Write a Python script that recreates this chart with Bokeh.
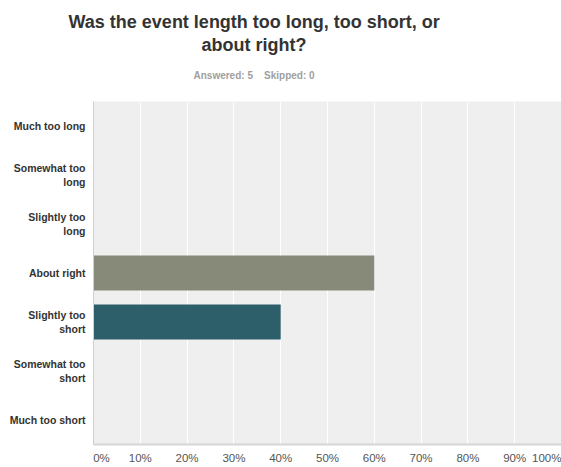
from bokeh.plotting import figure
from bokeh.models import Range1d, FactorRange, FixedTicker, Title, PrintfTickFormatter
from bokeh.embed import file_html
from bokeh.resources import INLINE

title_line1 = "Was the event length too long, too short, or"
title_line2 = "about right?"
answered = "Answered: 5"
skipped = "Skipped: 0"
categories = [
    "Much too long",
    "Somewhat too\nlong",
    "Slightly too\nlong",
    "About right",
    "Slightly too\nshort",
    "Somewhat too\nshort",
    "Much too short",
]
percent = [0, 0, 0, 60, 40, 0, 0]
bar_colors = ["#878a78", "#878a78", "#878a78", "#878a78", "#2c5f6a", "#2c5f6a", "#2c5f6a"]
x_ticks = [0, 10, 20, 30, 40, 50, 60, 70, 80, 90, 100]

FONT = "Liberation Sans"
NB = "\u00a0"

p = figure(width=561, height=467, output_backend="svg", toolbar_location=None,
           x_range=Range1d(0, 100), y_range=FactorRange(factors=list(reversed(categories)), range_padding=0),
           min_border_left=93, min_border_right=0, min_border_top=101, min_border_bottom=23)
p.background_fill_color = "#efefef"
p.border_fill_color = "white"
p.outline_line_color = None

p.xgrid.ticker = FixedTicker(ticks=x_ticks)
p.xgrid.grid_line_color = "white"
p.xgrid.grid_line_width = 1
p.ygrid.grid_line_color = None

# x axis
xa = p.xaxis[0]
xa.ticker = FixedTicker(ticks=x_ticks)
xa.formatter = PrintfTickFormatter(format="%d%%")
xa.major_label_overrides = {x_ticks[0]: NB * 5 + "0%"}
xa.major_tick_line_color = None
xa.minor_tick_line_color = None
xa.major_tick_out = 0
xa.major_tick_in = 0
xa.major_label_standoff = 7
xa.major_label_text_font = FONT
xa.major_label_text_font_size = "11.5px"
xa.major_label_text_color = "#555555"
xa.axis_line_color = "#d6d6d6"
xa.axis_line_width = 2

# y axis
ya = p.yaxis[0]
ya.major_tick_line_color = None
ya.major_tick_out = 0
ya.major_tick_in = 0
ya.major_label_standoff = 8
ya.major_label_text_font = FONT
ya.major_label_text_font_size = "10.5px"
ya.major_label_text_font_style = "bold"
ya.major_label_text_color = "#333333"
ya.major_label_text_line_height = 1.1
ya.axis_line_color = "#cfcfcf"
ya.axis_line_width = 1

p.hbar(y=categories, left=0, right=percent, height=0.71, fill_color=bar_colors, line_color=None)

# titles (added from the frame outward)
p.add_layout(Title(text=answered + " " + NB * 3 + skipped, align="left", offset=100,
                   vertical_align="bottom", standoff=42, text_font=FONT, text_font_size="10px",
                   text_font_style="bold", text_color="#a0a0a0"), "above")
p.add_layout(Title(text=title_line2, align="left", offset=108,
                   vertical_align="bottom", standoff=-17, text_font=FONT, text_font_size="18px",
                   text_font_style="bold", text_color="#333333"), "above")
p.add_layout(Title(text=title_line1, align="left", offset=-25,
                   vertical_align="bottom", standoff=19, text_font=FONT, text_font_size="18px",
                   text_font_style="bold", text_color="#333333"), "above")

open("out.html", "w").write(file_html(p, INLINE))
